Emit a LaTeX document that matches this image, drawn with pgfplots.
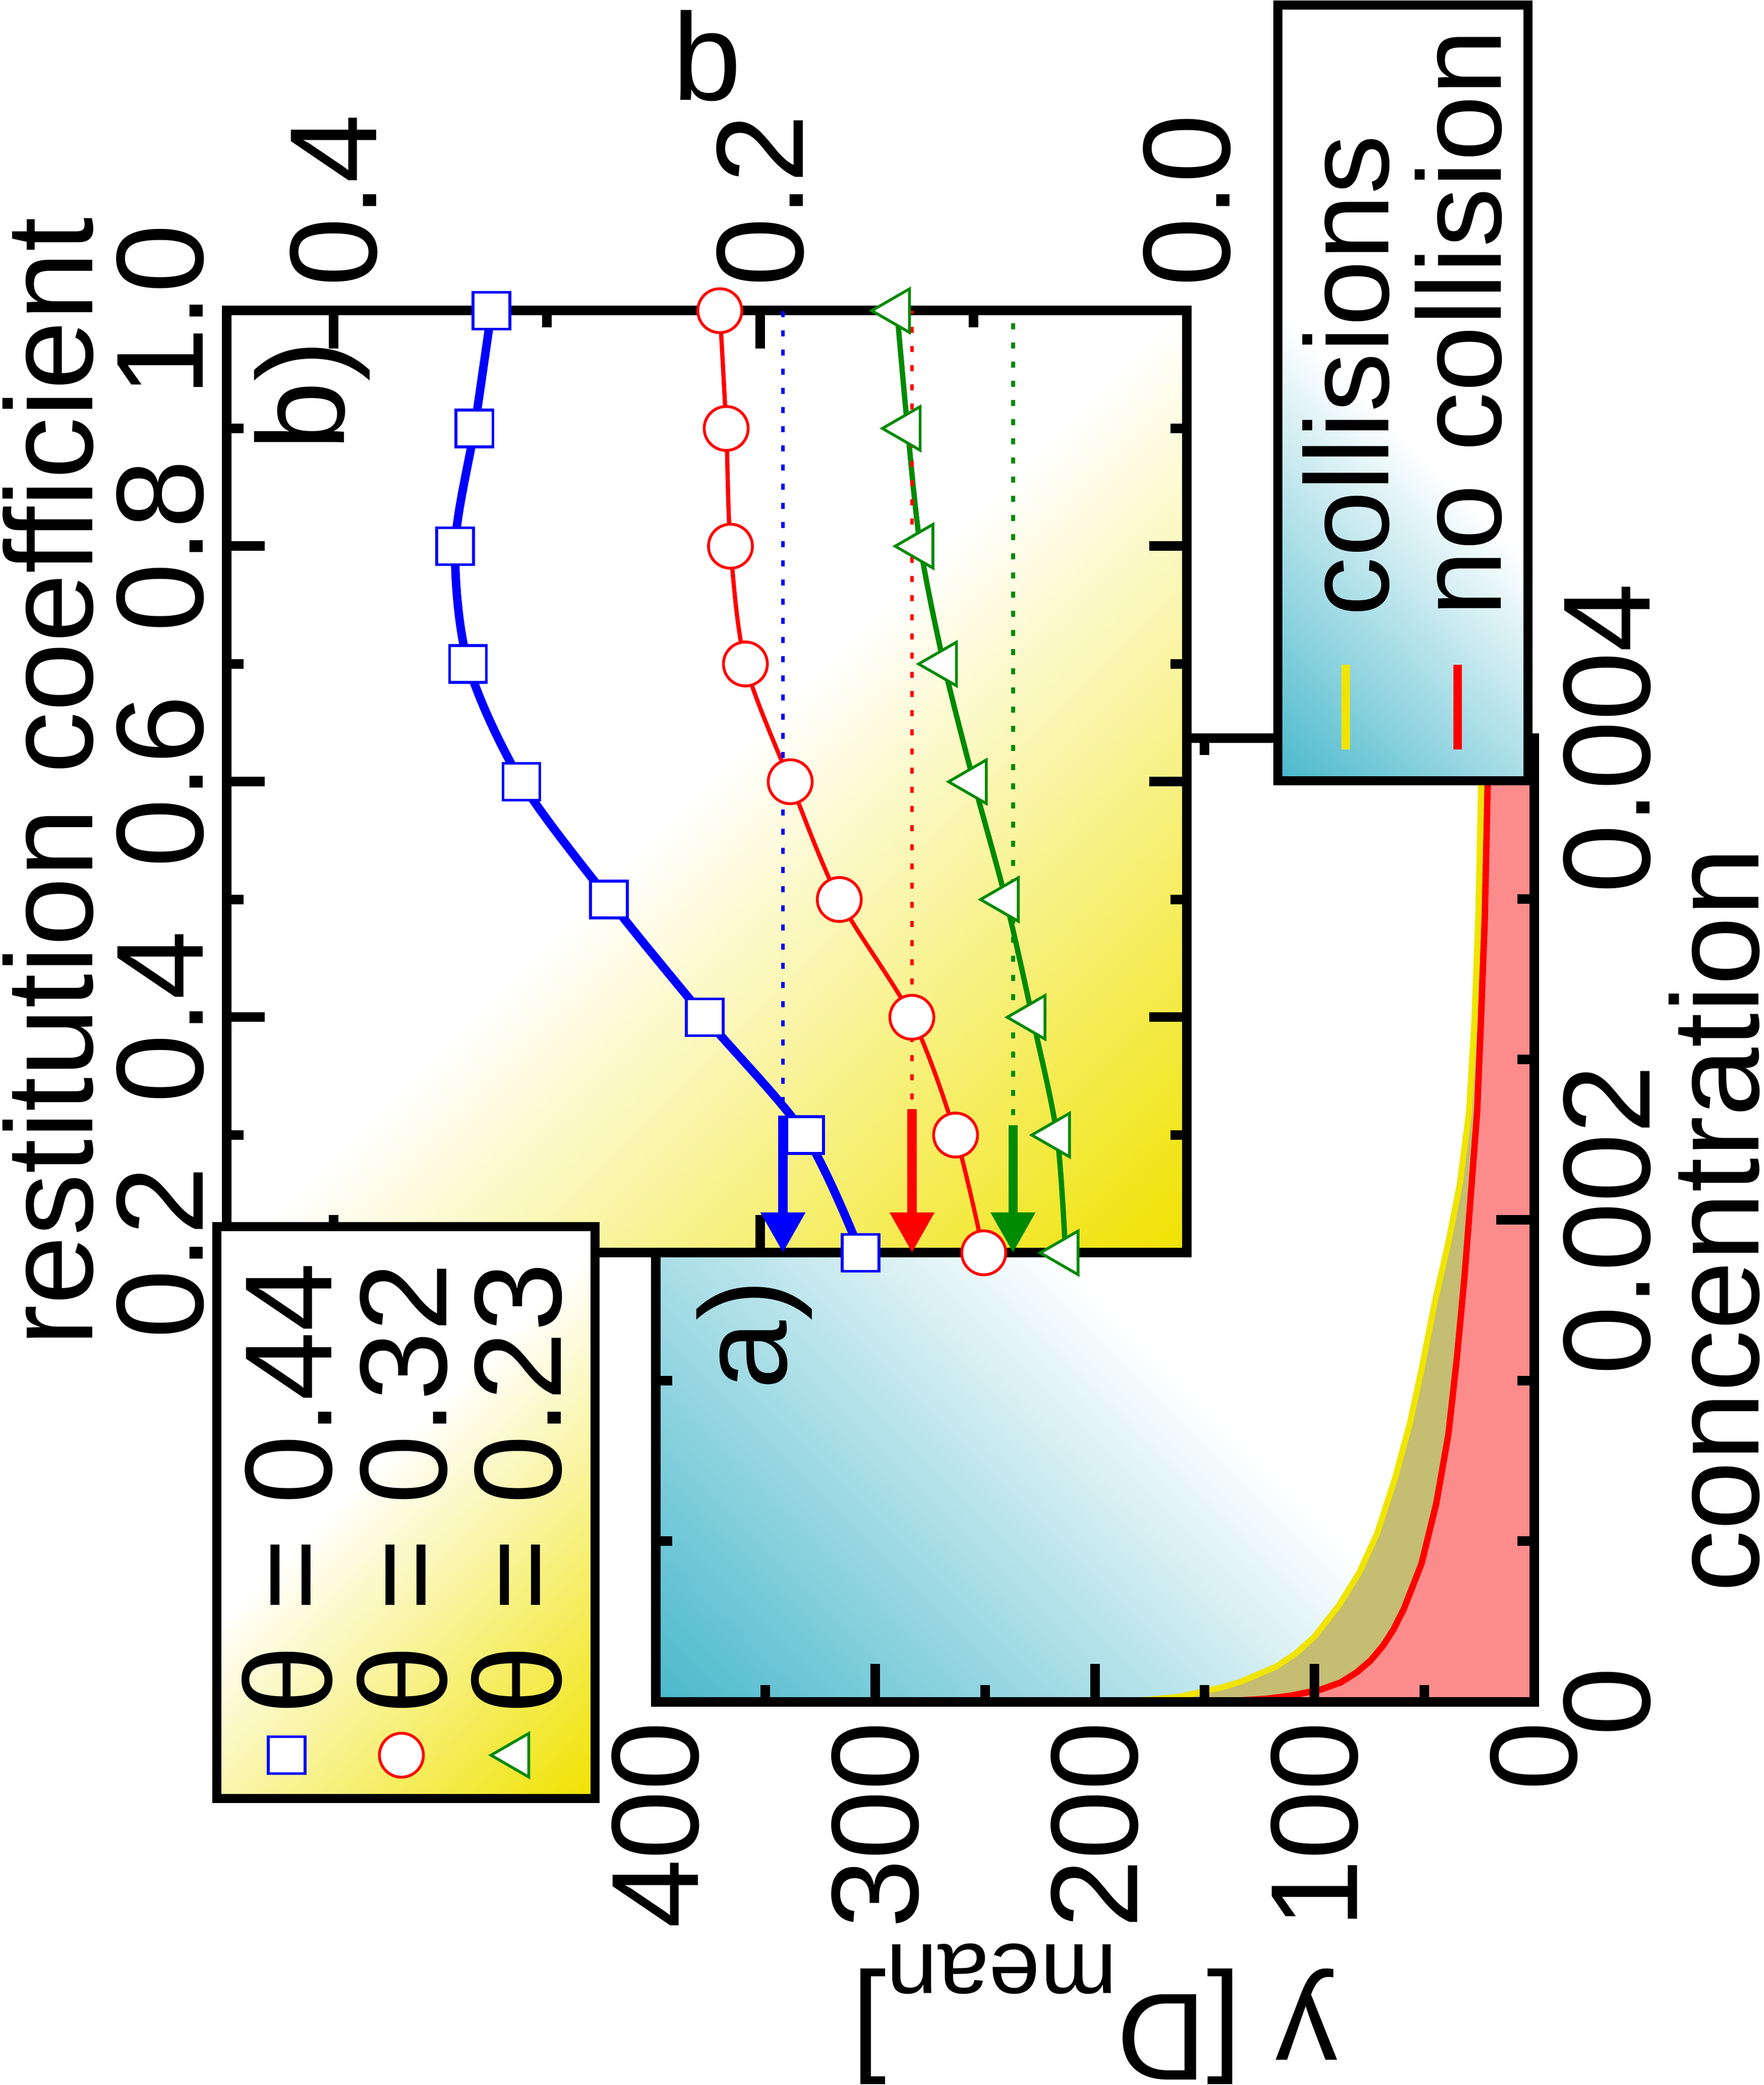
\documentclass[border=0pt]{standalone}
\usepackage{pgfplots}
\pgfplotsset{compat=1.18}
\usepackage{fontspec}
\setmainfont{Liberation Sans}
\setsansfont{Liberation Sans}
\usetikzlibrary{arrows.meta}
\definecolor{tealc}{RGB}{74,185,204}
\definecolor{yelc}{RGB}{240,226,0}
\definecolor{yline}{RGB}{240,228,0}
\definecolor{tanc}{RGB}{196,189,114}
\definecolor{pinkc}{RGB}{252,140,140}
\definecolor{dgreen}{RGB}{0,138,0}
\pgfdeclarehorizontalshading{tealfade}{100bp}{color(0bp)=(tealc); color(32.32bp)=(tealc); color(48.6bp)=(white); color(100bp)=(white)}
\pgfdeclarehorizontalshading{yelfade}{100bp}{color(0bp)=(yelc); color(32.32bp)=(yelc); color(50bp)=(white); color(100bp)=(white)}
\pgfdeclarehorizontalshading{yelfadeB}{100bp}{color(0bp)=(yelc); color(32.32bp)=(yelc); color(53bp)=(white); color(100bp)=(white)}
\newcommand\fsz{\fontsize{35}{40}\selectfont}
\newcommand\lfsz{\fontsize{33.5}{38}\selectfont}
\pgfplotsset{
  gpaxis/.style={
    scale only axis, anchor=south west,
    tick align=inside, xtick pos=both, ytick pos=both,
    major tick length=0.375cm, minor tick length=0.165cm,
    major tick style={line width=0.095cm, black},
    minor tick style={line width=0.095cm, black},
    axis line style={line width=0.095cm, line cap=rect},
    tick label style={font=\fsz},
    label style={font=\fsz},
    scaled x ticks=false, scaled y ticks=false,
  },
  legaxis/.style={
    at={(0,0)}, anchor=south west, scale only axis, width=20.67cm, height=17.485cm,
    hide axis, xmin=0, xmax=1, ymin=0, ymax=1,
    legend cell align=left,
  },
}
\begin{document}
\rotatebox{90}{%
\begin{tikzpicture}[font=\fsz]
\useasboundingbox (0,0) rectangle (20.67,17.485);
% ---------- main axis background
\begin{scope}
\clip (3.80,2.275) rectangle (13.35,10.985);
\shade[shading=tealfade, shading angle=-45] (-0.555,-2.5) rectangle (17.705,15.76);
\end{scope}
% ---------- main axis a)
\begin{axis}[gpaxis,
  at={(3.80cm,2.275cm)}, width=9.55cm, height=8.71cm,
  xmin=0, xmax=0.004, ymin=0, ymax=400,
  axis on top,
  xtick={0,0.002,0.004}, xticklabels={0,0.002,0.004},
  minor xtick={0.00066667,0.00133333,0.00266667,0.00333333},
  ytick={0,100,200,300,400}, yticklabels={0,100,200,300,400},
  minor ytick={50,150,250,350},
  xticklabel pos=lower, yticklabel pos=left,
  xticklabel style={inner sep=0pt, yshift=-0.28cm},
  yticklabel style={inner sep=0pt, xshift=-0.19cm},
  xlabel={concentration},
  every axis x label/.style={at={(axis description cs:0.5,-0.2560)}, anchor=base},
  ylabel={y [D\raisebox{-14pt}{\fontsize{26}{30}\selectfont mean}]},
  every axis y label/.style={at={(axis description cs:-0.3037,0.5)}, rotate=90, anchor=base},
]
\addplot[draw=none, fill=tanc] coordinates {
(0.000001,195) (0.000008,176) (0.00002,162) (0.000038,152.7) (0.00006,142) (0.000082,133.8)
(0.000145,117.6) (0.0002,108.5) (0.000271,99.9) (0.000398,89.0) (0.000536,79.6) (0.000698,71.5)
(0.000925,63.4) (0.00115,56.7) (0.00139,51.0) (0.00166,45.2) (0.0019,39.2) (0.00215,33.8)
(0.00245,29.6) (0.00282,27.2) (0.00326,25.4) (0.00381,24.1) (0.004,23.7)} \closedcycle;
\addplot[draw=none, fill=pinkc] coordinates {
(0.000002,140) (0.000012,122) (0.000025,110.7) (0.00005,97.3) (0.00008,88) (0.00012,81.0)
(0.00017,74.5) (0.000233,68.7) (0.0003,64) (0.000385,59.3) (0.000574,51.2) (0.000824,44.5)
(0.00111,39.0) (0.00143,35.1) (0.00175,31.8) (0.0019,30.5) (0.00215,28.4) (0.00245,25.9)
(0.00282,24.2) (0.00326,22.4) (0.00381,21.1) (0.004,20.8)} \closedcycle;
\addplot[yline, line width=1.7pt] coordinates {
(0.000001,195) (0.000008,176) (0.00002,162) (0.000038,152.7) (0.00006,142) (0.000082,133.8)
(0.000145,117.6) (0.0002,108.5) (0.000271,99.9) (0.000398,89.0) (0.000536,79.6) (0.000698,71.5)
(0.000925,63.4) (0.00115,56.7) (0.00139,51.0) (0.00166,45.2) (0.0019,39.2) (0.00215,33.8)
(0.00245,29.6) (0.00282,27.2) (0.00326,25.4) (0.00381,24.1) (0.004,23.7)};
\addplot[red, line width=1.8pt] coordinates {
(0.000002,140) (0.000012,122) (0.000025,110.7) (0.00005,97.3) (0.00008,88) (0.00012,81.0)
(0.00017,74.5) (0.000233,68.7) (0.0003,64) (0.000385,59.3) (0.000574,51.2) (0.000824,44.5)
(0.00111,39.0) (0.00143,35.1) (0.00175,31.8) (0.0019,30.5) (0.00215,28.4) (0.00245,25.9)
(0.00282,24.2) (0.00326,22.4) (0.00381,21.1) (0.004,20.8)};
\node[font=\fsz] at (axis cs:0.001525,355) {a)};
\end{axis}
% ---------- legend a box
\begin{scope}
\clip (12.93,2.335) rectangle (20.62,4.815);
\shade[shading=tealfade, shading angle=-45] (11.69,-1.51) rectangle (21.86,8.66);
\end{scope}
\draw[line width=0.09cm] (12.93,2.335) rectangle (20.62,4.815);
\begin{axis}[legaxis,
  legend style={at={(0.6381,0.2618)}, anchor=north west, draw=none, fill=none,
    inner sep=0pt, row sep=0.26cm, column sep=0.435cm, font=\lfsz,
    nodes={inner sep=0pt, text depth=0pt}},
  legend image code/.code={\draw[#1] (0cm,0cm) -- (0.84cm,0cm);},
]
\addlegendimage{yline, line width=2.4pt}
\addlegendentry{collisions}
\addlegendimage{red, line width=2.4pt}
\addlegendentry{no collision}
\end{axis}
% ---------- inset background
\begin{scope}
\clip (8.25,5.715) rectangle (17.59,15.235);
\shade[shading=yelfade, shading angle=45] (3.49,1.045) rectangle (22.35,19.905);
\end{scope}
% ---------- inset b)
\begin{axis}[gpaxis,
  at={(8.25cm,5.715cm)}, width=9.34cm, height=9.52cm,
  xmin=0.2, xmax=1.0, ymin=0, ymax=0.45,
  clip=false,
  xtick={0.2,0.4,0.6,0.8,1.0}, xticklabels={0.2,0.4,0.6,0.8,1.0},
  minor xtick={0.3,0.5,0.7,0.9},
  ytick={0,0.2,0.4}, yticklabels={0.0,0.2,0.4},
  minor ytick={0.1,0.3},
  xticklabel pos=upper, yticklabel pos=right,
  xticklabel style={inner sep=0pt, yshift=0.22cm},
  yticklabel style={inner sep=0pt, xshift=0.23cm},
  xlabel={restitution coefficient},
  every axis x label/.style={at={(axis description cs:0.5,1.1402)}, anchor=base},
  ylabel={b},
  every axis y label/.style={at={(axis description cs:1.2233,0.5)}, rotate=-90, anchor=base},
]
\addplot[blue, line width=2.4pt, smooth, mark=square*, mark size=5.2pt,
  mark options={fill=white, draw=blue, line width=0.8pt}] coordinates {
(0.2,0.153) (0.3,0.179) (0.4,0.226) (0.5,0.271) (0.6,0.312) (0.7,0.337) (0.8,0.343) (0.9,0.334) (1.0,0.326)};
\addplot[red, line width=1.2pt, smooth, mark=*, mark size=6.2pt,
  mark options={fill=white, draw=red, line width=0.8pt}] coordinates {
(0.2,0.0953) (0.3,0.1085) (0.4,0.129) (0.5,0.163) (0.6,0.186) (0.7,0.207) (0.8,0.214) (0.9,0.216) (1.0,0.219)};
\addplot[dgreen, line width=1.5pt, smooth, mark=triangle*, mark size=7.1pt,
  mark options={fill=white, draw=dgreen, line width=0.8pt}] coordinates {
(0.2,0.057) (0.3,0.061) (0.4,0.0725) (0.5,0.085) (0.6,0.100) (0.7,0.114) (0.8,0.125) (0.9,0.131) (1.0,0.136)};
\addplot[blue, line width=1.1pt, dash pattern=on 0.06cm off 0.13cm] coordinates {(0.327,0.1894) (1.0,0.1894)};
\addplot[red, line width=1.1pt, dash pattern=on 0.06cm off 0.13cm] coordinates {(0.33,0.1289) (1.0,0.1289)};
\addplot[dgreen, line width=1.1pt, dash pattern=on 0.06cm off 0.13cm] coordinates {(0.317,0.0816) (1.0,0.0816)};
\addplot[blue, line width=2.6pt, -{Triangle[width=0.42cm,length=0.4cm]}] coordinates {(0.3165,0.1894) (0.2,0.1894)};
\addplot[red, line width=2.6pt, -{Triangle[width=0.42cm,length=0.4cm]}] coordinates {(0.322,0.1289) (0.2,0.1289)};
\addplot[dgreen, line width=2.6pt, -{Triangle[width=0.42cm,length=0.4cm]}] coordinates {(0.3085,0.0816) (0.2,0.0816)};
\node[font=\fsz] at (axis cs:0.928,0.41) {b)};
\end{axis}
% ---------- legend b box
\begin{scope}
\clip (2.84,11.585) rectangle (8.51,15.335);
\shade[shading=yelfadeB, shading angle=45] (0.965,8.75) rectangle (10.385,18.17);
\end{scope}
\draw[line width=0.09cm] (2.84,11.585) rectangle (8.51,15.335);
\begin{axis}[legaxis,
  legend style={at={(0.1473,0.8633)}, anchor=north west, draw=none, fill=none,
    inner sep=0pt, row sep=0.247cm, column sep=0.185cm, font=\fsz,
    nodes={inner sep=0pt, text depth=0pt}},
  legend image code/.code={\draw[#1] plot coordinates {(0cm,0cm)};},
]
\addlegendimage{only marks, mark=square*, mark size=5.2pt, mark options={fill=white, draw=blue, line width=0.8pt}}
\addlegendentry{θ = 0.44}
\addlegendimage{only marks, mark=*, mark size=6.2pt, mark options={fill=white, draw=red, line width=0.8pt}}
\addlegendentry{θ = 0.32}
\addlegendimage{only marks, mark=triangle*, mark size=7.1pt, mark options={fill=white, draw=dgreen, line width=0.8pt}}
\addlegendentry{θ = 0.23}
\end{axis}
\end{tikzpicture}}
\end{document}
